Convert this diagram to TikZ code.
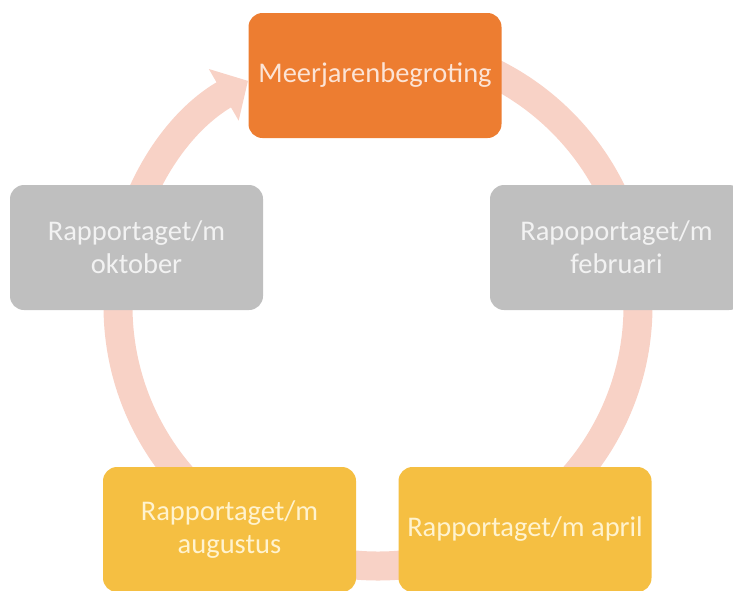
\documentclass[tikz,border=0pt]{standalone}
\usepackage{fontspec}
\setmainfont{Carlito}
\usetikzlibrary{arrows.meta}
\definecolor{ringc}{RGB}{248,210,198}
\definecolor{orangec}{RGB}{237,125,49}
\definecolor{grayc}{RGB}{191,191,191}
\definecolor{yellowc}{RGB}{245,191,66}
\definecolor{toptext}{RGB}{252,228,214}
\definecolor{graytext}{RGB}{242,242,242}
\definecolor{yeltext}{RGB}{255,243,207}
\tikzset{
  box/.style={rounded corners=14pt, minimum width=253pt, minimum height=125pt,
    align=center, inner sep=0pt, font=\fontsize{28.5}{33}\selectfont},
  topbox/.style={box, fill=orangec, text=toptext},
  graybox/.style={box, fill=grayc, text=graytext},
  yelbox/.style={box, fill=yellowc, text=yeltext},
  ring/.style={draw=ringc, line width=29pt, -{Triangle[width=58pt,length=28pt]}}
}
\begin{document}
\begin{tikzpicture}[x=1pt,y=-1pt]
\useasboundingbox (0,0) rectangle (733,590);
\clip (0,0) rectangle (733,590);
\coordinate (C) at (378,306);
\coordinate (S) at (378,46);
\draw[ring] (S) arc[start angle=90, end angle=-240, radius=260pt];
\node[topbox] (top) at (375,75.5) {Meerjarenbegroting};
\node[graybox] (feb) at (616.5,247.5) {Rapoportaget/m\\februari};
\node[graybox] (okt) at (136.5,247.5) {Rapportaget/m\\oktober};
\node[yelbox] (apr) at (525,529.5) {Rapportaget/m april};
\node[yelbox] (aug) at (229.5,529.5) {Rapportaget/m\\augustus};
\end{tikzpicture}
\end{document}
